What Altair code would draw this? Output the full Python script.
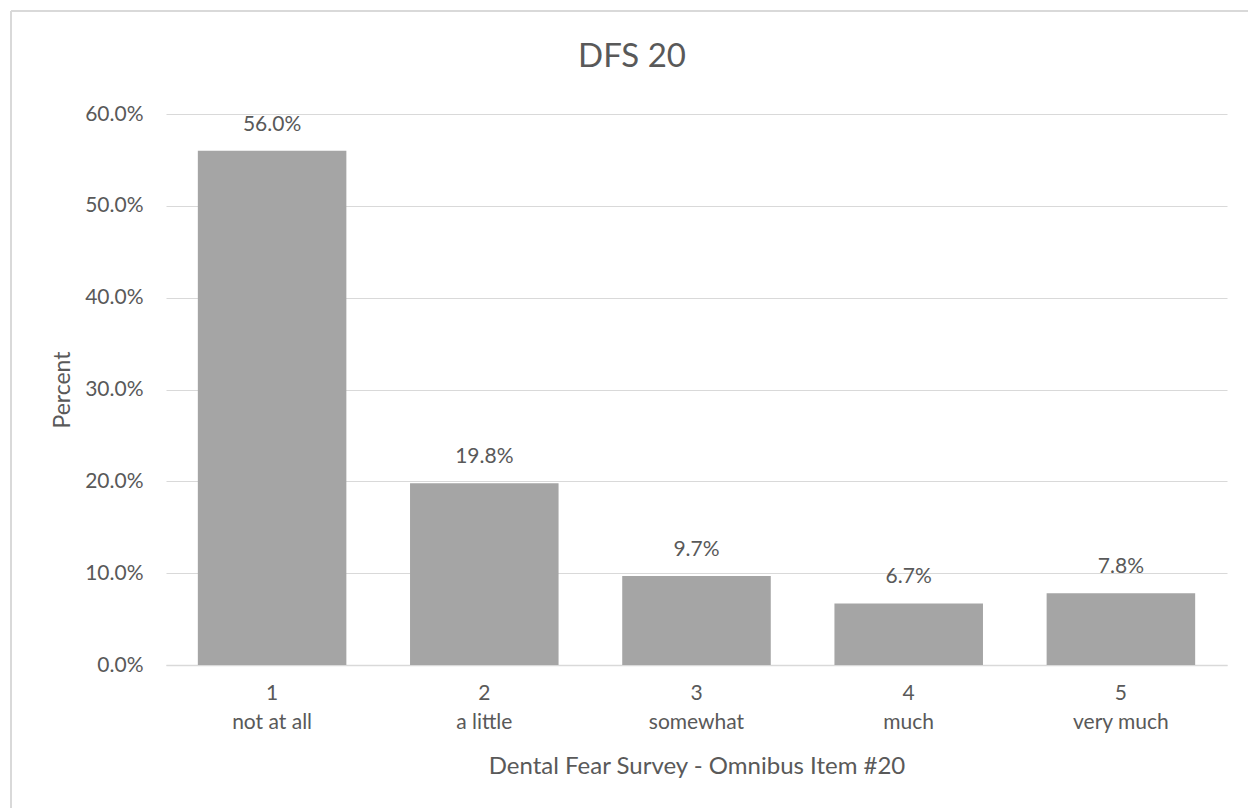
import altair as alt
import pandas as pd

codes = ["1", "2", "3", "4", "5"]
labels = ["not at all", "a little", "somewhat", "much", "very much"]
percents = [0.560, 0.198, 0.097, 0.067, 0.078]
chart_title = "DFS 20"

df = pd.DataFrame({
    "cat": [f"{c}\n{l}" for c, l in zip(codes, labels)],
    "pct": percents,
})

FONT = "Lato"
TXT = "#595959"
GRID = "#D9D9D9"

x_enc = alt.X(
    "cat:N",
    sort=None,
    title="Dental Fear Survey - Omnibus Item #20",
    scale=alt.Scale(paddingInner=0.3, paddingOuter=0.15),
    axis=alt.Axis(
        labelExpr="split(datum.label, '\\n')",
        labelAngle=0,
        labelFontSize=21,
        labelLineHeight=29,
        labelColor=TXT,
        labelFont=FONT,
        labelPadding=17,
        ticks=False,
        domainColor=GRID,
        domainWidth=1.5,
        titleFontSize=24,
        titleFont=FONT,
        titleColor=TXT,
        titleFontWeight="normal",
        titlePadding=22,
    ),
)
y_enc = alt.Y(
    "pct:Q",
    title="Percent",
    scale=alt.Scale(domain=[0, 0.6]),
    axis=alt.Axis(
        values=[0, 0.1, 0.2, 0.3, 0.4, 0.5, 0.6],
        format=".1%",
        labelFontSize=21,
        labelColor=TXT,
        labelFont=FONT,
        labelPadding=23,
        ticks=False,
        domain=False,
        gridColor=GRID,
        gridWidth=1.2,
        titleFontSize=23,
        titleFont=FONT,
        titleColor=TXT,
        titleFontWeight="normal",
        titlePadding=10,
    ),
)

bars = alt.Chart(df).mark_bar(color="#A5A5A5").encode(x=x_enc, y=y_enc)
text = alt.Chart(df).mark_text(
    baseline="alphabetic", dy=-20, fontSize=21, color=TXT, font=FONT
).encode(x=alt.X("cat:N", sort=None), y="pct:Q", text=alt.Text("pct:Q", format=".1%"))

title_df = pd.DataFrame({"t": [chart_title]})
title = alt.Chart(title_df).mark_text(
    baseline="alphabetic", align="center", fontSize=33, color=TXT, font=FONT
).encode(x=alt.value(466), y=alt.value(-47), text="t:N")

border_left = alt.Chart(df).mark_rule(color=GRID, strokeWidth=2).encode(
    x=alt.value(-155), y=alt.value(-103), y2=alt.value(700)
)
border_top = alt.Chart(df).mark_rule(color=GRID, strokeWidth=2).encode(
    x=alt.value(-155), x2=alt.value(1100), y=alt.value(-103)
)

chart = alt.layer(bars, text, title, border_left, border_top).properties(
    width=1061,
    height=551,
    background="white",
    autosize=alt.AutoSizeParams(type="none"),
    padding={"left": 166, "top": 114, "right": 21, "bottom": 143},
).configure_view(stroke="transparent", strokeWidth=0)

chart.save("out.html", embed_options={"renderer": "svg", "actions": False})
